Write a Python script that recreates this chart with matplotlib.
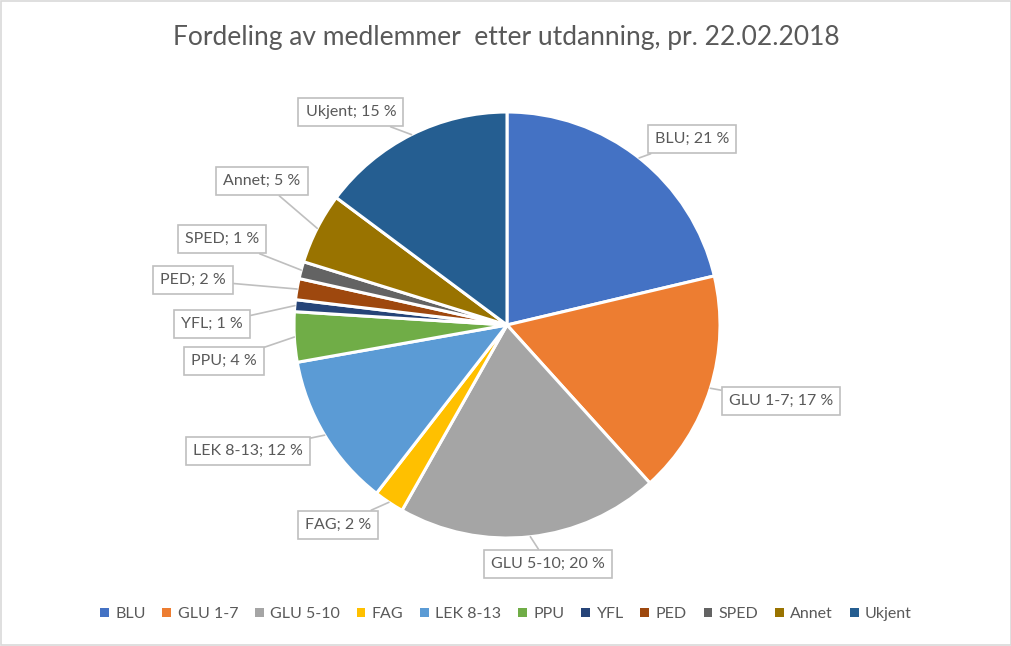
import matplotlib
matplotlib.use("Agg")
import matplotlib.pyplot as plt
from matplotlib.patches import Patch, Rectangle
import numpy as np

plt.rcParams['font.family'] = ['Lato', 'DejaVu Sans']

categories = ["BLU", "GLU 1-7", "GLU 5-10", "FAG", "LEK 8-13", "PPU", "YFL", "PED", "SPED", "Annet", "Ukjent"]
shares = [21.3, 17.0, 19.9, 2.3, 11.7, 3.8, 0.9, 1.6, 1.3, 5.4, 14.8]
colors = ["#4472C4", "#ED7D31", "#A5A5A5", "#FFC000", "#5B9BD5", "#70AD47",
          "#264478", "#9E480E", "#636363", "#997300", "#255E91"]
title = "Fordeling av medlemmer  etter utdanning, pr. 22.02.2018"

# label box centres (pixels in 1012x646 figure)
label_px = [(692, 139), (781, 401), (548, 564), (338, 525), (248, 451), (224, 361),
            (212, 324), (193, 280), (222, 239), (262, 181), (351, 112)]

W, H = 1012, 646
fig = plt.figure(figsize=(W / 100, H / 100), dpi=100)
fig.patches.append(Rectangle((0.0005, 0.0008), 0.999, 0.998, transform=fig.transFigure,
                             fill=False, edgecolor="#d9d9d9", linewidth=1.2))

cx, cy, r = 507, 325, 213
ax = fig.add_axes([(cx - r) / W, (H - cy - r) / H, 2 * r / W, 2 * r / H])
wedges, _ = ax.pie(shares, colors=colors, startangle=90, counterclock=False,
                   radius=1.0, wedgeprops=dict(edgecolor="white", linewidth=2.2))
ax.set_xlim(-1, 1)
ax.set_ylim(-1, 1)
ax.set_aspect('equal')
ax.axis('off')

tc = "#595959"
for w, cat, val, (lx, ly) in zip(wedges, categories, shares, label_px):
    mid = np.deg2rad((w.theta1 + w.theta2) / 2)
    px, py = np.cos(mid), np.sin(mid)
    ax.annotate(f"{cat}; {round(val):d} %", xy=(px, py), xycoords='data',
                xytext=(lx / W, 1 - ly / H), textcoords='figure fraction',
                ha='center', va='center', fontsize=11.5, color=tc,
                bbox=dict(boxstyle="square,pad=0.45", fc="white", ec="#bfbfbf", lw=1.2),
                arrowprops=dict(arrowstyle='-', color="#bfbfbf", lw=1.2,
                                shrinkA=0, shrinkB=0))

fig.text(0.5, 1 - 37 / H, title, ha='center', va='center', fontsize=19, color=tc)

handles = [Patch(facecolor=c, edgecolor='none') for c in colors]
fig.legend(handles, categories, loc='center', bbox_to_anchor=(0.5, 1 - 614 / H),
           ncol=len(categories), frameon=False, fontsize=11.5, labelcolor=tc,
           handlelength=0.55, handleheight=0.55, handletextpad=0.4, columnspacing=1.05)

fig.savefig("out.png", dpi=100)
